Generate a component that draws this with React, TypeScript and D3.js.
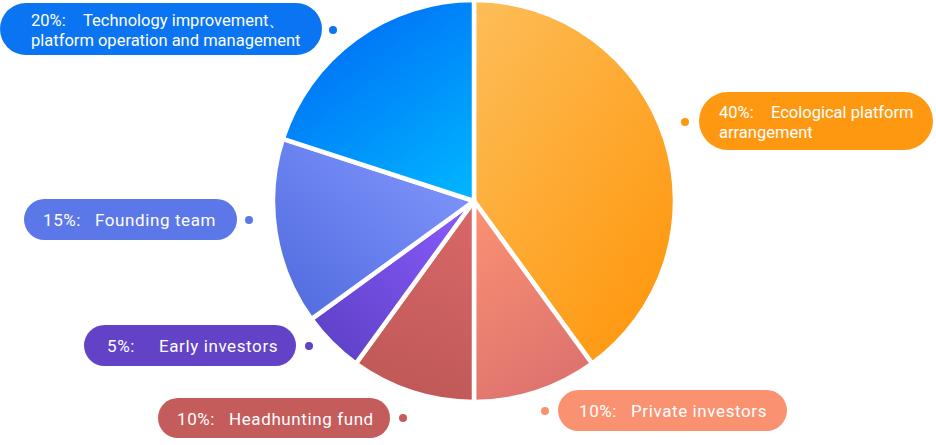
import React from "react"
import { pie, arc } from "d3"

// slice values, clockwise from 12 o'clock
const shares = [40, 10, 10, 5, 15, 20]
// slice names, split into the lines the labels use
const nameLines = [
	["Ecological platform", "arrangement"],
	["Private investors"],
	["Headhunting fund"],
	["Early investors"],
	["Founding team"],
	["Technology improvement、", "platform operation and management"],
]

/** gradient stops and directions for each slice */
const sliceStyles = [
	{ from: "#fdbc55", to: "#ff950a", x1: 0.1, y1: 0, x2: 0.9, y2: 1, label: "#ff9811" },
	{ from: "#fb9272", to: "#df746f", x1: 0, y1: 0, x2: 0.4, y2: 1, label: "#fa9170" },
	{ from: "#d76767", to: "#bf5858", x1: 0.6, y1: 0, x2: 0.4, y2: 1, label: "#c45c5c" },
	{ from: "#8a5cff", to: "#5b3fc2", x1: 1, y1: 0, x2: 0, y2: 1, label: "#6242c6" },
	{ from: "#8096fd", to: "#546ee0", x1: 1, y1: 0.2, x2: 0.2, y2: 1, label: "#5b77e8" },
	{ from: "#0068f5", to: "#00b4ff", x1: 0.2, y1: 0, x2: 0.9, y2: 1, label: "#0a74f2" },
]

/** label box placement (box, text start, dot centre) */
const labelBoxes = [
	{ x: 699, y: 92, w: 234, h: 58, tx: 719, dx: 685, dy: 122 },
	{ x: 558, y: 390, w: 229, h: 41, tx: 579, dx: 545, dy: 411 },
	{ x: 158, y: 398, w: 232, h: 40, tx: 177, dx: 403, dy: 418 },
	{ x: 84, y: 325, w: 212, h: 41, tx: 107, dx: 309, dy: 346 },
	{ x: 24, y: 199, w: 213, h: 41, tx: 43, dx: 249, dy: 220 },
	{ x: 0, y: 3, w: 322, h: 52, tx: 31, dx: 333, dy: 30 },
]

export default function App() {
	const width = 936
	const height = 445
	const cx = 474
	const cy = 201
	const radius = 201

	/** label text */
	const lineH = 20
	const nameOffset = 52

	const arcs = pie<number>().sort(null).value(d => d)(shares)
	const arcGen = arc<any>().innerRadius(0).outerRadius(radius)

	return (
		<svg
			width={width}
			height={height}
			style={{ position: "absolute", left: 0, top: 0 }}
			fontFamily="Roboto, 'Noto Sans', sans-serif"
		>
			<defs>
				{sliceStyles.map((s, i) => (
					<linearGradient key={i} id={`slice-${i}`} x1={s.x1} y1={s.y1} x2={s.x2} y2={s.y2}>
						<stop offset="0%" stopColor={s.from} />
						<stop offset="100%" stopColor={s.to} />
					</linearGradient>
				))}
			</defs>
			<g transform={`translate(${cx}, ${cy})`}>
				{arcs.map((a, i) => (
					<path
						key={i}
						d={arcGen(a) || ""}
						fill={`url(#slice-${i})`}
						stroke="#fff"
						strokeWidth={4.5}
						strokeLinejoin="round"
					/>
				))}
			</g>
			{labelBoxes.map((b, i) => {
				const lines = nameLines[i]
				const multi = lines.length > 1
				const color = sliceStyles[i].label
				/** baselines sit a little below the box centre */
				const firstY = b.y + b.h / 2 + 6.5 - ((lines.length - 1) * lineH) / 2
				return (
					<g key={i}>
						<rect x={b.x} y={b.y} width={b.w} height={b.h} rx={b.h / 2} fill={color} />
						<circle cx={b.dx} cy={b.dy} r={4} fill={color} />
						<text
							fontSize={multi ? 16.5 : 17}
							letterSpacing={multi ? 0 : 0.6}
							fill="#fff"
						>
							<tspan x={b.tx} y={firstY}>{`${shares[i]}%:`}</tspan>
							<tspan x={b.tx + nameOffset} y={firstY}>{lines[0]}</tspan>
							{lines.slice(1).map((t, j) => (
								<tspan key={j} x={b.tx} y={firstY + (j + 1) * lineH}>{t}</tspan>
							))}
						</text>
					</g>
				)
			})}
		</svg>
	)
}
